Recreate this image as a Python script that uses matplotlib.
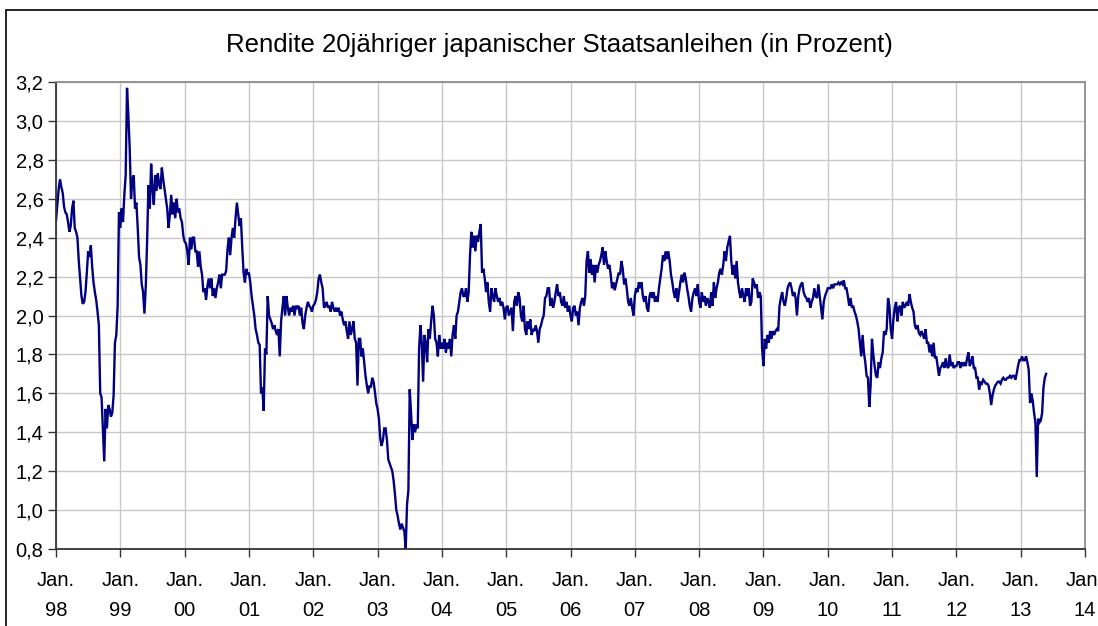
import numpy as np
import matplotlib
matplotlib.use("Agg")
import matplotlib.pyplot as plt
from matplotlib.patches import Rectangle
from matplotlib.ticker import FuncFormatter

plt.rcParams['font.family'] = ['Liberation Sans', 'DejaVu Sans']

# 20y JGB yield at 48 samples per year
y1998 = [2.49, 2.57, 2.65, 2.70, 2.66, 2.63, 2.56, 2.53, 2.52, 2.48,
         2.43, 2.46, 2.55, 2.59, 2.45, 2.43, 2.40, 2.28, 2.19, 2.10,
         2.06, 2.07, 2.12, 2.22, 2.33, 2.30, 2.36, 2.25, 2.17, 2.12,
         2.08, 2.02, 1.95, 1.60, 1.58, 1.42, 1.25, 1.52, 1.42, 1.54,
         1.52, 1.48, 1.50, 1.59, 1.86, 1.90, 2.05, 2.53]
y1999 = [2.45, 2.55, 2.48, 2.62, 2.72, 3.17, 3.03, 2.86, 2.60, 2.70,
         2.72, 2.55, 2.58, 2.45, 2.30, 2.26, 2.16, 2.12, 2.01, 2.15,
         2.38, 2.67, 2.55, 2.78, 2.65, 2.57, 2.72, 2.64, 2.73, 2.67,
         2.65, 2.76, 2.70, 2.65, 2.60, 2.55, 2.45, 2.52, 2.62, 2.52,
         2.58, 2.50, 2.60, 2.53, 2.55, 2.50, 2.48, 2.41]
y2000 = [2.38, 2.37, 2.33, 2.26, 2.40, 2.34, 2.40, 2.40, 2.33, 2.33,
         2.25, 2.33, 2.25, 2.21, 2.12, 2.14, 2.08, 2.15, 2.19, 2.14,
         2.19, 2.10, 2.14, 2.09, 2.14, 2.17, 2.21, 2.14, 2.21, 2.21,
         2.21, 2.23, 2.34, 2.40, 2.31, 2.40, 2.45, 2.40, 2.50, 2.58,
         2.52, 2.46, 2.50, 2.35, 2.22, 2.17, 2.24, 2.21]
y2001 = [2.22, 2.17, 2.10, 2.05, 2.00, 1.93, 1.90, 1.86, 1.85, 1.60,
         1.63, 1.51, 1.83, 1.80, 2.10, 2.00, 1.98, 1.96, 1.93, 1.95,
         1.92, 1.90, 1.93, 1.79, 1.97, 2.04, 2.10, 2.00, 2.10, 2.04,
         2.00, 2.04, 2.02, 2.05, 2.00, 2.05, 2.04, 2.05, 2.00, 2.04,
         1.96, 1.93, 2.00, 2.04, 2.07, 2.05, 2.04, 2.02]
y2002 = [2.05, 2.06, 2.08, 2.12, 2.19, 2.21, 2.17, 2.14, 2.04, 2.05,
         2.07, 2.04, 2.05, 2.02, 2.07, 2.04, 2.02, 2.04, 2.02, 2.04,
         2.00, 2.02, 1.98, 1.95, 1.97, 1.92, 1.88, 1.97, 1.90, 1.93,
         1.97, 1.88, 1.86, 1.64, 1.88, 1.88, 1.79, 1.83, 1.76, 1.69,
         1.64, 1.60, 1.64, 1.63, 1.68, 1.66, 1.61, 1.55]
y2003 = [1.52, 1.47, 1.37, 1.33, 1.36, 1.42, 1.42, 1.36, 1.26, 1.24,
         1.22, 1.20, 1.15, 1.08, 1.00, 0.97, 0.93, 0.90, 0.93, 0.91,
         0.89, 0.80, 1.03, 1.10, 1.62, 1.50, 1.36, 1.44, 1.40, 1.44,
         1.42, 1.83, 1.95, 1.86, 1.66, 1.90, 1.86, 1.76, 1.93, 1.88,
         1.97, 2.05, 2.00, 1.88, 1.86, 1.79, 1.90, 1.83]
y2004 = [1.86, 1.83, 1.88, 1.81, 1.86, 1.83, 1.88, 1.79, 1.90, 1.95,
         1.88, 2.00, 2.02, 2.07, 2.12, 2.14, 2.10, 2.10, 2.14, 2.07,
         2.12, 2.31, 2.43, 2.35, 2.41, 2.33, 2.41, 2.38, 2.43, 2.47,
         2.22, 2.24, 2.19, 2.12, 2.17, 2.07, 2.02, 2.14, 2.10, 2.07,
         2.14, 2.10, 2.07, 2.09, 2.05, 2.07, 2.04, 1.98]
y2005 = [2.04, 2.05, 2.00, 2.02, 2.04, 1.92, 2.07, 2.10, 2.05, 2.12,
         2.09, 2.00, 1.97, 2.05, 1.93, 1.90, 1.97, 1.93, 1.98, 1.90,
         1.93, 1.92, 1.95, 1.92, 1.86, 1.93, 1.95, 1.98, 2.00, 2.09,
         2.10, 2.14, 2.14, 2.05, 2.09, 2.04, 2.07, 2.12, 2.16, 2.10,
         2.12, 2.07, 2.05, 2.10, 2.04, 2.07, 2.02, 2.05]
y2006 = [2.00, 1.97, 2.04, 2.05, 2.00, 2.02, 1.95, 2.04, 2.07, 2.09,
         2.05, 2.10, 2.28, 2.33, 2.22, 2.29, 2.21, 2.26, 2.17, 2.26,
         2.22, 2.26, 2.28, 2.31, 2.35, 2.26, 2.33, 2.28, 2.24, 2.26,
         2.21, 2.14, 2.17, 2.13, 2.16, 2.19, 2.22, 2.21, 2.28, 2.24,
         2.16, 2.19, 2.14, 2.07, 2.05, 2.09, 2.04, 2.00]
y2007 = [2.10, 2.14, 2.12, 2.17, 2.14, 2.17, 2.10, 2.07, 2.10, 2.04,
         2.02, 2.10, 2.12, 2.09, 2.12, 2.07, 2.10, 2.07, 2.14, 2.19,
         2.24, 2.31, 2.28, 2.33, 2.29, 2.33, 2.28, 2.21, 2.17, 2.12,
         2.09, 2.14, 2.07, 2.12, 2.17, 2.21, 2.17, 2.22, 2.19, 2.14,
         2.10, 2.05, 2.02, 2.09, 2.12, 2.14, 2.10, 2.16]
y2008 = [2.07, 2.04, 2.12, 2.07, 2.10, 2.05, 2.09, 2.07, 2.04, 2.12,
         2.05, 2.17, 2.09, 2.14, 2.17, 2.22, 2.24, 2.21, 2.26, 2.33,
         2.28, 2.35, 2.38, 2.41, 2.28, 2.21, 2.26, 2.19, 2.28, 2.17,
         2.12, 2.09, 2.14, 2.10, 2.07, 2.14, 2.10, 2.14, 2.05, 2.07,
         2.19, 2.17, 2.14, 2.16, 2.09, 2.12, 2.10, 1.83]
y2009 = [1.74, 1.88, 1.83, 1.90, 1.86, 1.92, 1.88, 1.92, 1.90, 1.92,
         1.93, 1.92, 2.05, 2.09, 2.12, 2.07, 2.05, 2.09, 2.14, 2.16,
         2.17, 2.14, 2.10, 2.12, 2.09, 2.00, 2.10, 2.14, 2.16, 2.17,
         2.12, 2.10, 2.09, 2.07, 2.09, 2.04, 2.07, 2.09, 2.14, 2.10,
         2.09, 2.16, 2.10, 2.04, 1.98, 2.07, 2.10, 2.12]
y2010 = [2.14, 2.14, 2.14, 2.16, 2.14, 2.16, 2.16, 2.16, 2.17, 2.16,
         2.17, 2.16, 2.18, 2.14, 2.14, 2.10, 2.05, 2.09, 2.04, 2.05,
         2.02, 2.00, 1.97, 1.93, 1.86, 1.79, 1.90, 1.81, 1.76, 1.69,
         1.68, 1.53, 1.64, 1.88, 1.80, 1.74, 1.69, 1.68, 1.76, 1.73,
         1.78, 1.81, 1.92, 1.90, 1.93, 2.09, 2.05, 1.93]
y2011 = [1.88, 1.98, 2.04, 2.07, 1.97, 2.04, 2.05, 2.00, 2.07, 2.04,
         2.05, 2.07, 2.05, 2.11, 2.07, 2.04, 2.02, 1.95, 1.93, 1.95,
         1.91, 1.90, 1.92, 1.90, 1.88, 1.93, 1.86, 1.86, 1.81, 1.85,
         1.79, 1.86, 1.78, 1.79, 1.74, 1.69, 1.73, 1.74, 1.76, 1.73,
         1.78, 1.74, 1.73, 1.80, 1.74, 1.76, 1.73, 1.74]
y2012 = [1.74, 1.76, 1.76, 1.73, 1.76, 1.74, 1.76, 1.74, 1.78, 1.81,
         1.74, 1.76, 1.79, 1.73, 1.73, 1.68, 1.68, 1.62, 1.66, 1.65,
         1.67, 1.66, 1.65, 1.65, 1.64, 1.60, 1.54, 1.59, 1.62, 1.64,
         1.65, 1.66, 1.66, 1.65, 1.67, 1.68, 1.67, 1.67, 1.68, 1.68,
         1.69, 1.68, 1.69, 1.69, 1.67, 1.70, 1.74, 1.77]
y2013 = [1.77, 1.79, 1.77, 1.77, 1.79, 1.76, 1.72, 1.55, 1.60, 1.56,
         1.50, 1.45, 1.17, 1.47, 1.45, 1.46, 1.50, 1.63, 1.68, 1.70]

samples_per_year = 48
start_year = 1998

tick_years = list(range(1998, 2015))
tick_labels = ["Jan.\n" + str(y)[2:] for y in tick_years]
y_ticks = [0.8, 1.0, 1.2, 1.4, 1.6, 1.8, 2.0, 2.2, 2.4, 2.6, 2.8, 3.0, 3.2]

title = "Rendite 20jähriger japanischer Staatsanleihen (in Prozent)"

yields = np.concatenate([y1998, y1999, y2000, y2001, y2002, y2003, y2004, y2005,
                         y2006, y2007, y2008, y2009, y2010, y2011, y2012, y2013])
dates = start_year + np.arange(len(yields)) / samples_per_year

W, H = 1098, 626
fig = plt.figure(figsize=(W / 100, H / 100), dpi=100)
ax = fig.add_axes([56 / W, 1 - 549 / H, (1085 - 56) / W, (549 - 82) / H])

ax.plot(dates, yields, color="#000080", lw=1.7, solid_joinstyle="miter")

ax.set_xlim(1998, 2014)
ax.set_ylim(0.8, 3.2)
ax.set_xticks(tick_years)
ax.set_xticklabels(tick_labels, fontsize=14.5, linespacing=1.75)
ax.set_yticks(y_ticks)
ax.yaxis.set_major_formatter(FuncFormatter(lambda v, p: f"{v:.1f}".replace(".", ",")))
ax.tick_params(axis="y", labelsize=14.5, length=6, width=1, pad=3, color="#333333")
ax.tick_params(axis="x", length=6, width=1, pad=10, color="#333333")

ax.grid(True, color="#c8c8c8", lw=1)
ax.set_axisbelow(True)
for side in ["left", "bottom"]:
    ax.spines[side].set_color("#333333")
    ax.spines[side].set_linewidth(1.3)
for side in ["top", "right"]:
    ax.spines[side].set_color("#8c8c8c")
    ax.spines[side].set_linewidth(1.3)

fig.text(559 / W, 1 - 45 / H, title, ha="center", va="center", fontsize=18.5)

# outer chart border (left and top edges visible)
fig.add_artist(Rectangle((6 / W, -0.05), 1.0, 1 - 10 / H + 0.05,
                         transform=fig.transFigure, fill=False, ec="black", lw=1.2))

fig.savefig("out.png", dpi=100)
